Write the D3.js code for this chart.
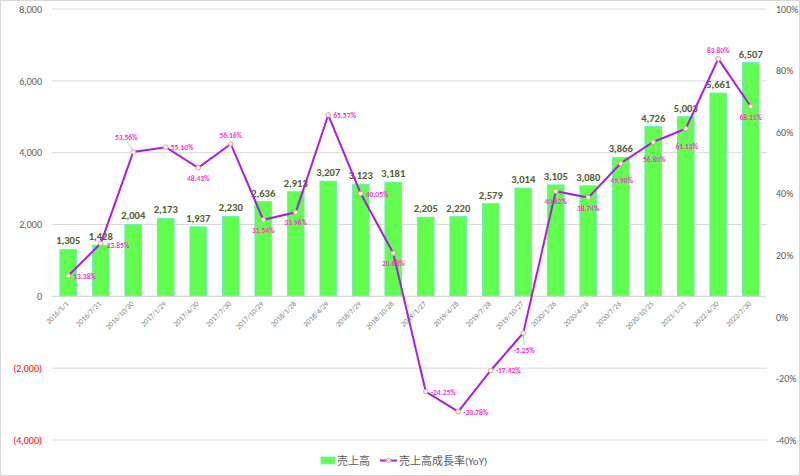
<!DOCTYPE html>
<html><head><meta charset="utf-8">
<script src="https://cdn.jsdelivr.net/npm/d3@7"></script>
<style>body{margin:0;background:#fff}svg{display:block}</style>
</head><body>
<svg id="c" width="800" height="476"></svg>
<script>
const dates = ["2016/5/1","2016/7/31","2016/10/30","2017/1/29","2017/4/30","2017/7/30","2017/10/29","2018/1/28","2018/4/29","2018/7/29","2018/10/28","2019/1/27","2019/4/28","2019/7/28","2019/10/27","2020/1/26","2020/4/26","2020/7/26","2020/10/25","2021/1/31","2022/4/30","2022/7/30"];
const sales = [1305,1428,2004,2173,1937,2230,2636,2913,3207,3123,3181,2205,2220,2579,3014,3105,3080,3866,4726,5003,5661,6507];
const yoy = [13.38,23.85,53.56,55.10,48.43,56.16,31.54,33.96,65.57,40.05,20.68,-24.25,-30.78,-17.42,-5.25,40.82,38.74,49.90,56.80,61.13,83.80,68.31];
const yoyPos = ["r","r","aL","r","b","a","b","b","r","r","b","r","r","r","bL","b","b","bL","bL","bL","a","b"];
const leftTicks = [-4000,-2000,0,2000,4000,6000,8000];
const rightTicks = [-40,-20,0,20,40,60,80,100];
const seriesNames = ["売上高","売上高成長率(YoY)"];

const svg = d3.select("#c");
const font = "Calibri, Carlito, 'Liberation Sans', 'Noto Sans CJK JP', sans-serif";
svg.append("rect").attr("x",0.5).attr("y",0.5).attr("width",799).attr("height",475).attr("fill","#fff").attr("stroke","#d9d9d9");

const x = d3.scaleBand().domain(dates).range([52,767]).paddingInner(0.485).paddingOuter(0.2425);
const yL = d3.scaleLinear().domain([-4000,8000]).range([440,9]);
const yR = d3.scaleLinear().domain([-40,100]).range([440,9]);

// gridlines
svg.append("g").selectAll("line").data(leftTicks).join("line")
  .attr("x1",52).attr("x2",767).attr("y1",d=>yL(d)).attr("y2",d=>yL(d))
  .attr("stroke","#d9d9d9").attr("stroke-width",1);

// left axis
const fmtL = d => d<0 ? "("+d3.format(",")(-d)+")" : d3.format(",")(d);
const axL = svg.append("g").attr("transform","translate(52,0)")
  .call(d3.axisLeft(yL).tickValues(leftTicks).tickFormat(fmtL).tickSize(0).tickPadding(10));
axL.select(".domain").remove();
axL.selectAll("text").attr("font-family",font).attr("font-size",10)
  .attr("fill",d=>d<0?"#ff0000":"#595959");

// right axis
const axR = svg.append("g").attr("transform","translate(767,0)")
  .call(d3.axisRight(yR).tickValues(rightTicks).tickFormat(d=>d+"%").tickSize(0).tickPadding(9));
axR.select(".domain").remove();
axR.selectAll("text").attr("font-family",font).attr("font-size",10).attr("fill","#595959");

// bars
svg.append("g").selectAll("rect").data(sales).join("rect")
  .attr("x",(d,i)=>x(dates[i])).attr("width",x.bandwidth())
  .attr("y",d=>yL(d)).attr("height",d=>yL(0)-yL(d))
  .attr("fill","#62fe4f").attr("stroke","#6ee6c8").attr("stroke-width",0.8);

// zero line
svg.append("line").attr("x1",52).attr("x2",767).attr("y1",yL(0)).attr("y2",yL(0)).attr("stroke","#d9d9d9");

// x labels
svg.append("g").selectAll("text").data(dates).join("text")
  .attr("transform",d=>`translate(${x(d)+x.bandwidth()/2+1},${yL(0)+8}) rotate(-45)`)
  .attr("text-anchor","end").attr("font-family",font).attr("font-size",7.5)
  .attr("fill","#7f7f7f").text(d=>d);

// bar labels
svg.append("g").selectAll("text").data(sales).join("text")
  .attr("x",(d,i)=>x(dates[i])+x.bandwidth()/2).attr("y",d=>yL(d)-5)
  .attr("text-anchor","middle").attr("font-family",font).attr("font-size",10.5).attr("font-weight","bold")
  .attr("fill","#4f5b2a").text(d=>d3.format(",")(d));

// line
const cx = i => x(dates[i])+x.bandwidth()/2;
svg.append("path").datum(yoy).attr("fill","none").attr("stroke","#a91fe0").attr("stroke-width",2)
  .attr("d",d3.line().x((d,i)=>cx(i)).y(d=>yR(d)));

// leader lines & yoy labels
const lab = svg.append("g");
yoy.forEach((v,i)=>{
  const px=cx(i), py=yR(v); const p=yoyPos[i];
  let tx=px, ty=py, anchor="middle";
  if(p==="r"){tx=px+5; ty=py+3; anchor="start"; if(i===1){tx=px+6; ty=py+5;}}
  else if(p==="b"){ty=py+13;}
  else if(p==="a"){ty=py-6;}
  else if(p==="aL"){tx=px-7; ty=py-12;
    lab.append("line").attr("x1",px).attr("y1",py-1).attr("x2",px-6).attr("y2",py-10).attr("stroke","#a6a6a6").attr("stroke-width",0.7);}
  else if(p==="bL"){tx=px+1; ty=py+20;
    lab.append("line").attr("x1",px).attr("y1",py+2).attr("x2",px+1).attr("y2",py+12).attr("stroke","#a6a6a6").attr("stroke-width",0.7);}
  lab.append("text").attr("x",tx).attr("y",ty).attr("text-anchor",anchor)
    .attr("font-family",font).attr("font-size",7.5).attr("font-weight","bold").attr("fill","#ff33cc")
    .text(v.toFixed(2)+"%");
});

// markers
svg.append("g").selectAll("circle").data(yoy).join("circle")
  .attr("cx",(d,i)=>cx(i)).attr("cy",d=>yR(d)).attr("r",2.3)
  .attr("fill","#fff").attr("stroke","#e8907a").attr("stroke-width",0.9);

// legend
const lg = svg.append("g");
lg.append("rect").attr("x",321).attr("y",457).attr("width",14).attr("height",7).attr("fill","#62fe4f").attr("stroke","#6ee6c8").attr("stroke-width",0.8);
lg.append("text").attr("x",337).attr("y",465).attr("font-family",font).attr("font-size",11).attr("fill","#595959").text(seriesNames[0]);
lg.append("line").attr("x1",380).attr("x2",397).attr("y1",460.5).attr("y2",460.5).attr("stroke","#a91fe0").attr("stroke-width",2);
lg.append("circle").attr("cx",388.5).attr("cy",460.5).attr("r",2.3).attr("fill","#fff").attr("stroke","#e8907a").attr("stroke-width",0.9);
lg.append("text").attr("x",399).attr("y",465).attr("font-family",font).attr("font-size",11).attr("fill","#595959").text(seriesNames[1]);
</script>
</body></html>
